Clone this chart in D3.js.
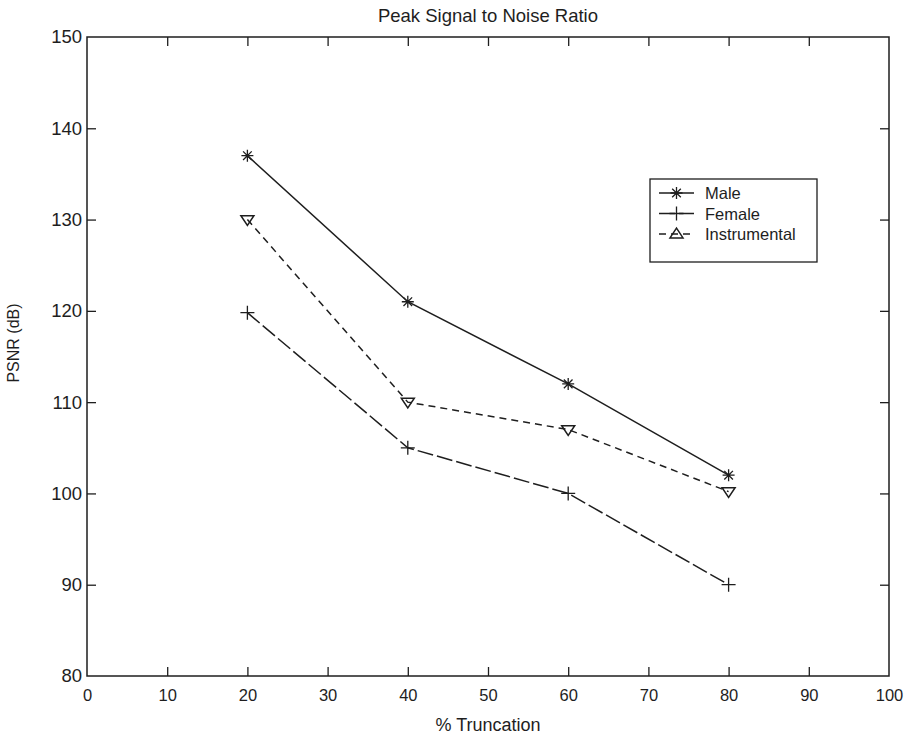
<!DOCTYPE html>
<html>
<head>
<meta charset="utf-8">
<script src="https://cdn.jsdelivr.net/npm/d3@7"></script>
<style>
  body { margin: 0; background: #fff; }
  text { font-family: "Liberation Sans", Arial, sans-serif; fill: #1e1e1e; }
</style>
</head>
<body>
<div id="chart"></div>
<script>
// Chart data
var truncation = [20, 40, 60, 80];
var maleValues = [137, 121, 112, 102];
var femaleValues = [119.8, 105, 100, 90];
var instrumentalValues = [130, 110, 107, 100.2];
var seriesNames = ["Male", "Female", "Instrumental"];
var xTicks = [0, 10, 20, 30, 40, 50, 60, 70, 80, 90, 100];
var yTicks = [80, 90, 100, 110, 120, 130, 140, 150];

document.addEventListener("DOMContentLoaded", function() {
    var width = 907, height = 738;
    var left = 87, right = 889, top = 37, bottom = 676;
    var ink = "#1e1e1e";

    var svg = d3.select("#chart").append("svg")
        .attr("width", width)
        .attr("height", height);

    var x = d3.scaleLinear().domain([0, 100]).range([left, right]);
    var y = d3.scaleLinear().domain([80, 150]).range([bottom, top]);

    // frame
    svg.append("rect")
       .attr("x", left).attr("y", top)
       .attr("width", right - left).attr("height", bottom - top)
       .attr("fill", "none").attr("stroke", ink).attr("stroke-width", 1.5);

    // axes with inward ticks, mirrored on top and right
    var tl = 9;
    var bottomAxis = svg.append("g").attr("transform", "translate(0," + bottom + ")")
        .call(d3.axisBottom(x).tickValues(xTicks).tickSize(-tl).tickPadding(13));
    var topAxis = svg.append("g").attr("transform", "translate(0," + top + ")")
        .call(d3.axisTop(x).tickValues(xTicks).tickSize(-tl).tickFormat(""));
    var leftAxis = svg.append("g").attr("transform", "translate(" + left + ",0)")
        .call(d3.axisLeft(y).tickValues(yTicks).tickSize(-tl).tickPadding(5));
    var rightAxis = svg.append("g").attr("transform", "translate(" + right + ",0)")
        .call(d3.axisRight(y).tickValues(yTicks).tickSize(-tl).tickFormat(""));

    [bottomAxis, topAxis, leftAxis, rightAxis].forEach(function(g) {
        g.select(".domain").remove();
        g.selectAll(".tick line").attr("stroke", ink).attr("stroke-width", 1.3);
        g.selectAll(".tick text").attr("fill", ink);
    });
    bottomAxis.selectAll(".tick line").filter(function(d) { return d === 0 || d === 100; }).remove();
    topAxis.selectAll(".tick line").filter(function(d) { return d === 0 || d === 100; }).remove();
    leftAxis.selectAll(".tick line").filter(function(d) { return d === 80 || d === 150; }).remove();
    rightAxis.selectAll(".tick line").filter(function(d) { return d === 80 || d === 150; }).remove();
    bottomAxis.selectAll(".tick text").style("font-size", "16.5px").attr("font-family", null);
    leftAxis.selectAll(".tick text").style("font-size", "18.5px").attr("font-family", null);

    // titles
    svg.append("text")
       .attr("x", (left + right) / 2).attr("y", 22)
       .attr("text-anchor", "middle").style("font-size", "18.5px")
       .text("Peak Signal to Noise Ratio");
    svg.append("text")
       .attr("x", (left + right) / 2).attr("y", 731)
       .attr("text-anchor", "middle").style("font-size", "18px")
       .text("% Truncation");
    svg.append("text")
       .attr("transform", "translate(19,343) rotate(-90)")
       .attr("text-anchor", "middle").style("font-size", "16px")
       .text("PSNR (dB)");

    // markers
    function star(g, cx, cy) {
        var r = 6;
        var p = "M" + (cx - r) + "," + cy + "H" + (cx + r) +
                "M" + cx + "," + (cy - r) + "V" + (cy + r) +
                "M" + (cx - r * 0.72) + "," + (cy - r * 0.72) + "L" + (cx + r * 0.72) + "," + (cy + r * 0.72) +
                "M" + (cx - r * 0.72) + "," + (cy + r * 0.72) + "L" + (cx + r * 0.72) + "," + (cy - r * 0.72);
        g.append("path").attr("d", p).attr("stroke", ink).attr("stroke-width", 1.3).attr("fill", "none");
    }
    function plus(g, cx, cy) {
        var r = 7;
        var p = "M" + (cx - r) + "," + cy + "H" + (cx + r) + "M" + cx + "," + (cy - r) + "V" + (cy + r);
        g.append("path").attr("d", p).attr("stroke", ink).attr("stroke-width", 1.3).attr("fill", "none");
    }
    function triDown(g, cx, cy) {
        var r = 6.5;
        var p = "M" + (cx - r) + "," + (cy - r * 0.6) + "H" + (cx + r) + "L" + cx + "," + (cy + r * 0.9) + "Z";
        g.append("path").attr("d", p).attr("stroke", ink).attr("stroke-width", 1.5).attr("fill", "none");
    }
    function triUp(g, cx, cy) {
        var r = 6.5;
        var p = "M" + (cx - r) + "," + (cy + r * 0.6) + "H" + (cx + r) + "L" + cx + "," + (cy - r * 0.9) + "Z";
        g.append("path").attr("d", p).attr("stroke", ink).attr("stroke-width", 1.5).attr("fill", "none");
    }

    var series = [
        { name: seriesNames[0], values: maleValues, dash: null, marker: star, legendMarker: star },
        { name: seriesNames[1], values: femaleValues, dash: "16,4", marker: plus, legendMarker: plus },
        { name: seriesNames[2], values: instrumentalValues, dash: "7,5", marker: triDown, legendMarker: triUp }
    ];

    var line = d3.line()
        .x(function(d) { return x(d.x); })
        .y(function(d) { return y(d.y); });

    series.forEach(function(s) {
        var pts = truncation.map(function(t, i) { return { x: t, y: s.values[i] }; });
        svg.append("path")
           .datum(pts)
           .attr("d", line)
           .attr("fill", "none")
           .attr("stroke", ink)
           .attr("stroke-width", 1.5)
           .attr("stroke-dasharray", s.dash);
        var mg = svg.append("g");
        pts.forEach(function(p) { s.marker(mg, x(p.x), y(p.y)); });
    });

    // legend
    var lg = svg.append("g");
    lg.append("rect")
      .attr("x", 650).attr("y", 179).attr("width", 167).attr("height", 83)
      .attr("fill", "#fff").attr("stroke", ink).attr("stroke-width", 1.3);
    series.forEach(function(s, i) {
        var ly = 193 + i * 20.5;
        lg.append("line")
          .attr("x1", 659).attr("x2", 694).attr("y1", ly).attr("y2", ly)
          .attr("stroke", ink).attr("stroke-width", 1.4)
          .attr("stroke-dasharray", s.dash);
        s.legendMarker(lg, 676.5, ly);
        lg.append("text")
          .attr("x", 705).attr("y", ly + 6)
          .style("font-size", "16.5px")
          .text(s.name);
    });
});
</script>
</body>
</html>
